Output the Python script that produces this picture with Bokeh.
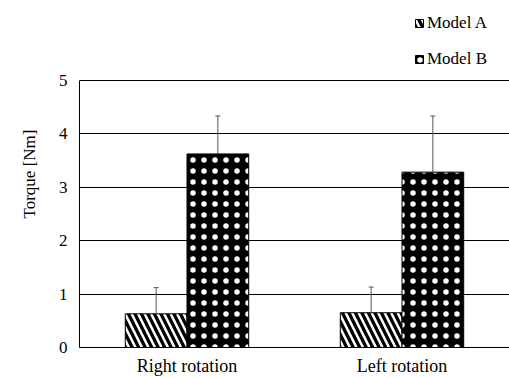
from bokeh.plotting import figure
from bokeh.models import ColumnDataSource, FactorRange, Range1d, Whisker, Legend, LegendItem, TeeHead, FixedTicker
from bokeh.transform import dodge
from bokeh.embed import file_html
from bokeh.resources import INLINE

categories = ["Right rotation", "Left rotation"]
model_a = [0.63, 0.65]
model_b = [3.62, 3.28]
model_a_err = [0.49, 0.48]
model_b_err = [0.71, 1.05]
y_ticks = [0, 1, 2, 3, 4, 5]

FONT = "Liberation Serif"

src = ColumnDataSource(dict(
    cat=categories,
    a=model_a,
    b=model_b,
    a_up=[v + e for v, e in zip(model_a, model_a_err)],
    b_up=[v + e for v, e in zip(model_b, model_b_err)],
))

# frame reaches the top of the canvas so the legend (drawn inside the frame) is visible;
# the axis itself is bounded to 0..5
p = figure(width=509, height=378, output_backend="svg", toolbar_location=None,
           x_range=FactorRange(*categories, range_padding=0), y_range=Range1d(0, 6.49),
           min_border_left=79, min_border_right=0, min_border_top=0, min_border_bottom=30)
p.outline_line_color = None
p.xgrid.grid_line_color = None
p.ygrid.grid_line_color = "black"
p.ygrid.grid_line_width = 1
p.yaxis.ticker = FixedTicker(ticks=y_ticks)
p.yaxis.bounds = (0, 5)

for ax in (p.xaxis, p.yaxis):
    ax.axis_line_color = "black"
    ax.major_tick_line_color = None
    ax.minor_tick_line_color = None
    ax.major_tick_out = 0
    ax.major_tick_in = 0
    ax.minor_tick_out = 0
    ax.minor_tick_in = 0
    ax.major_label_text_font = FONT
    ax.major_label_text_font_size = "17px"
    ax.major_label_text_color = "black"
p.xaxis.major_label_text_font_size = "18px"
p.yaxis.major_label_standoff = 12
p.xaxis.major_label_standoff = 8
p.yaxis.axis_label = "Torque [Nm]"
p.yaxis.axis_label_text_font = FONT
p.yaxis.axis_label_text_font_size = "17px"
p.yaxis.axis_label_text_font_style = "normal"
p.yaxis.axis_label_text_color = "black"
p.yaxis.axis_label_standoff = 17

w = 0.287
# error bars
wa = Whisker(source=src, base=dodge("cat", -w / 2, range=p.x_range), lower="a", upper="a_up",
             line_color="#555555", line_width=1,
             upper_head=TeeHead(size=5, line_color="#555555"), lower_head=None)
wb = Whisker(source=src, base=dodge("cat", w / 2, range=p.x_range), lower="b", upper="b_up",
             line_color="#555555", line_width=1,
             upper_head=TeeHead(size=5, line_color="#555555"), lower_head=None)
p.add_layout(wa)
p.add_layout(wb)

ra = p.vbar(x=dodge("cat", -w / 2, range=p.x_range), top="a", width=w, source=src,
            fill_color="white", line_color="black", line_width=1,
            hatch_pattern="left_diagonal_line", hatch_color="black", hatch_scale=13, hatch_weight=3.3)
rb = p.vbar(x=dodge("cat", w / 2, range=p.x_range), top="b", width=w, source=src,
            fill_color="black", line_color="black", line_width=1,
            hatch_pattern="dot", hatch_color="white", hatch_scale=11, hatch_weight=0.6)

legend = Legend(items=[LegendItem(label="Model A", renderers=[ra]),
                       LegendItem(label="Model B", renderers=[rb])],
                location=(335, 278), orientation="vertical",
                padding=0, margin=0, border_line_color=None, background_fill_alpha=0,
                glyph_width=10, glyph_height=10, label_height=20, spacing=16,
                label_standoff=3, label_text_font=FONT, label_text_font_size="17px",
                label_text_color="black")
p.add_layout(legend, "center")

open("out.html", "w").write(file_html(p, INLINE))
